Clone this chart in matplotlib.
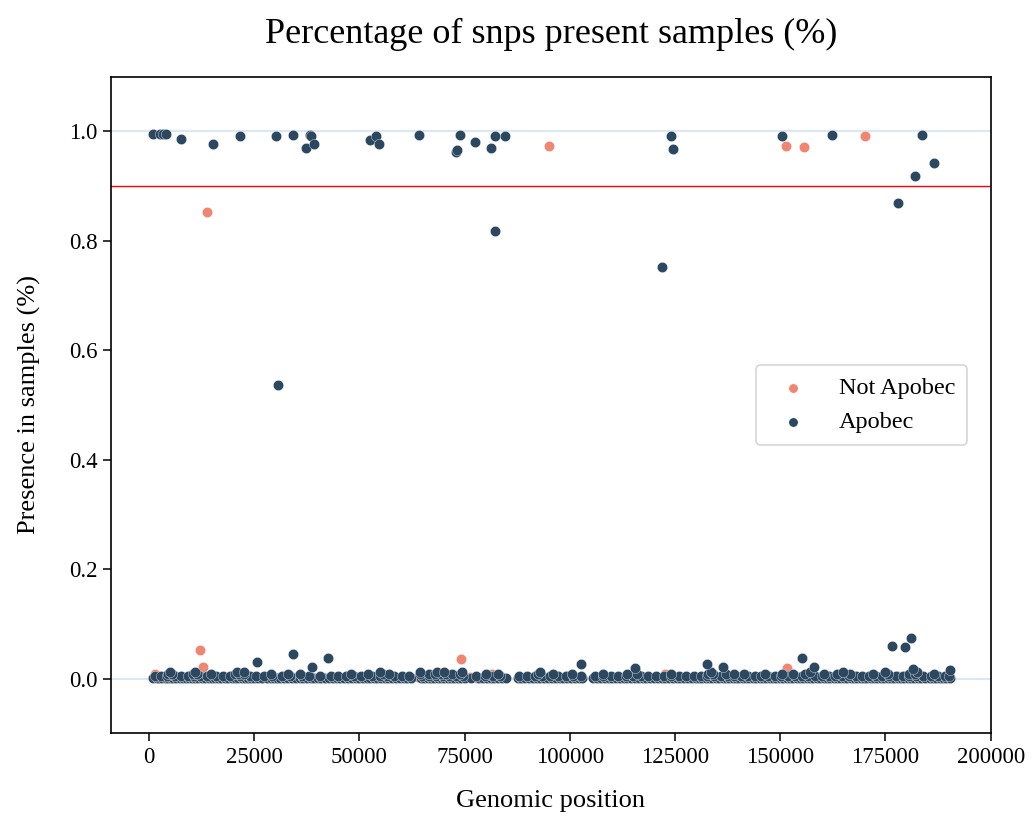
import matplotlib
matplotlib.use("Agg")
import matplotlib.pyplot as plt
import numpy as np

plt.rcParams["font.family"] = ["Liberation Serif", "DejaVu Serif"]

# --- high / mid presence points (x = genomic position, y = fraction) ---
hi_apobec_x = [1000, 2600, 3300, 4000, 7600, 15270, 21600, 30300, 30630, 34350,
               37300, 38250, 38500, 39200, 52600, 54050, 54600, 64200, 73050, 73300,
               74000, 77400, 81200, 82300, 82300, 84600, 121800, 124100, 124500, 150400,
               162300, 178050, 181950, 183600, 186450]
hi_apobec_y = [0.996, 0.996, 0.996, 0.996, 0.986, 0.977, 0.991, 0.991, 0.536, 0.994,
               0.969, 0.994, 0.991, 0.977, 0.984, 0.991, 0.977, 0.994, 0.962, 0.966,
               0.994, 0.981, 0.969, 0.991, 0.818, 0.991, 0.753, 0.991, 0.968, 0.991,
               0.994, 0.870, 0.918, 0.994, 0.942]

hi_not_x = [13840, 95000, 151400, 155750, 170200]
hi_not_y = [0.852, 0.974, 0.974, 0.972, 0.991]

# --- low presence outliers ---
lo_apobec_x = [25570, 34260, 38770, 42570, 102560, 115600, 132550, 136520, 155100,
               158130, 176600, 179700, 181150, 181600, 190400]
lo_apobec_y = [0.030, 0.045, 0.022, 0.038, 0.026, 0.020, 0.027, 0.022, 0.038,
               0.022, 0.060, 0.058, 0.075, 0.018, 0.015]

lo_not_x = [12100, 12800, 74070, 151630]
lo_not_y = [0.053, 0.022, 0.035, 0.019]

# --- near-zero band, read as tiers of presence ---
zero_apobec_x = [1000, 1800, 2500, 3200, 4000, 4600, 5200, 5800, 6500, 7300, 8000, 8800,
                 9600, 10300, 11000, 11700, 12500, 13300, 14200, 15000, 15600, 16400,
                 17200, 18000, 18900, 19700, 20500, 21200, 22000, 22800, 23500, 24300,
                 25000, 25900, 26800, 28000, 28900, 29700, 30500, 31200, 32000, 33100,
                 34000, 35000, 35800, 36700, 37500, 38400, 39300, 40200, 41000, 41900,
                 42800, 43700, 44600, 45500, 46400, 47300, 48200, 49100, 50000, 50900,
                 51800, 52600, 53400, 54300, 55200, 56000, 56900, 57800, 58700, 59600,
                 60500, 61400, 62200, 64600, 65400, 66200, 67000, 67800, 68600, 69400,
                 70200, 71000, 71800, 72600, 73400, 74200, 75000, 76500, 78500, 79400,
                 80300, 81200, 82100, 83000, 83900, 84800, 87600, 88500, 89400, 90300,
                 91200, 92100, 93000, 93900, 94800, 95800, 96700, 97600, 98500, 99400,
                 100300, 101200, 102100, 103000, 105600, 106500, 107400, 108300, 109200,
                 110100, 111000, 111900, 112800, 113700, 114600, 115500, 116400, 117300,
                 118200, 119100, 120000, 120900, 121800, 122700, 123600, 124500, 125400,
                 126300, 127200, 128100, 129000, 129900, 130700, 131500, 132300, 133100,
                 133900, 134700, 135500, 136300, 137100, 137900, 138700, 139500, 140300,
                 141100, 141900, 142700, 143500, 144300, 145100, 145900, 146700, 147500,
                 148300, 149100, 149900, 150700, 151500, 152300, 153100, 153900, 154700,
                 155500, 156300, 157100, 157900, 158700, 159500, 160300, 161100, 161900,
                 162700, 163500, 164300, 165100, 165900, 166700, 167500, 168300, 169100,
                 169900, 170700, 171500, 172300, 173100, 173900, 174700, 175500, 176300,
                 177100, 177900, 178700, 179500, 180300, 181100, 181900, 182700, 183500,
                 184300, 185500, 186300, 187100, 187900, 188700, 189500, 190300]
zero_apobec_y = 0.001

low_apobec_x = [1400, 2900, 4300, 6100, 7700, 9200, 10700, 12100, 13800, 16000, 17600,
                19300, 21600, 23900, 25400, 27400, 29300, 31600, 33500, 36300, 38000,
                40600, 43200, 45000, 46900, 48700, 50500, 53000, 54800, 56500, 58300,
                60100, 61800, 65000, 66600, 68200, 69800, 71400, 73000, 74600, 77600,
                79800, 81700, 83500, 88000, 89800, 91700, 93500, 95300, 97200, 99000,
                100800, 102600, 106000, 107900, 109700, 111500, 113300, 115100, 116900,
                118700, 120500, 122300, 124100, 125900, 127700, 129500, 131100, 132700,
                134300, 135900, 137500, 139100, 140700, 142300, 143900, 145500, 147100,
                148700, 150300, 151900, 153500, 155100, 156700, 158300, 159900, 161500,
                163100, 164700, 166300, 167900, 169500, 171100, 172700, 174300, 175900,
                177500, 179100, 180700, 182300, 183900, 185900, 187500, 189100, 190000]
low_apobec_y = 0.004

mid_apobec_x = [4500, 5500, 10500, 11500, 14800, 20500, 21500, 22500, 29000, 33000,
                36000, 48000, 52000, 55500, 57000, 64500, 66500, 68000, 69500, 70500,
                72000, 73800, 80000, 83000, 92500, 96000, 100500, 108000, 113500, 116000,
                124000, 132800, 134000, 137000, 139000, 141500, 146500, 150500, 153000,
                156000, 160500, 163500, 166500, 172000, 175500, 180500, 182000, 186500]
mid_apobec_y = 0.008

top_apobec_x = [5000, 11000, 21000, 22600, 55000, 64500, 68500, 70000, 74300, 93000,
                133500, 157000, 165000, 175000, 182500]
top_apobec_y = 0.013

zero_not_x = [1500, 8000, 35000, 51500, 64000, 66000, 76200, 78000, 81400, 82000,
              91600, 95000, 101100, 114000, 116600, 118000, 122700, 128000, 131000,
              145000, 152000, 154000, 170000, 178000, 181000, 185000, 186000, 190000]
zero_not_y = [0.008, 0.003, 0.003, 0.004, 0.003, 0.003, 0.003, 0.002, 0.008, 0.004,
              0.002, 0.003, 0.003, 0.003, 0.003, 0.003, 0.008, 0.003, 0.003, 0.003,
              0.003, 0.003, 0.003, 0.004, 0.003, 0.002, 0.003, 0.003]

not_color = "#ee8672"
apobec_color = "#2c4760"


def main():
    fig, ax = plt.subplots(figsize=(10.33, 8.24), dpi=100)
    fig.subplots_adjust(left=0.1075, right=0.959, top=0.907, bottom=0.11)

    ax.axhline(1.0, color="#dbe7f1", lw=1.5, zorder=1)
    ax.axhline(0.0, color="#dbe7f1", lw=1.5, zorder=1)
    ax.axhline(0.9, color="red", lw=1.0, zorder=1)

    kw = dict(s=55, edgecolors="white", linewidths=0.25, zorder=3)

    nx = zero_not_x + lo_not_x + hi_not_x
    ny = zero_not_y + lo_not_y + hi_not_y
    ax.scatter(nx, ny, color=not_color, label="Not Apobec", **kw)

    px = np.concatenate([zero_apobec_x, low_apobec_x, mid_apobec_x, top_apobec_x,
                         lo_apobec_x, hi_apobec_x])
    py = np.concatenate([np.full(len(zero_apobec_x), zero_apobec_y),
                         np.full(len(low_apobec_x), low_apobec_y),
                         np.full(len(mid_apobec_x), mid_apobec_y),
                         np.full(len(top_apobec_x), top_apobec_y),
                         lo_apobec_y, hi_apobec_y])
    ax.scatter(px, py, color=apobec_color, label="Apobec", **kw)

    ax.set_xlim(-9000, 200000)
    ax.set_ylim(-0.1, 1.1)
    ax.set_xticks([0, 25000, 50000, 75000, 100000, 125000, 150000, 175000, 200000])
    ax.set_yticks([0.0, 0.2, 0.4, 0.6, 0.8, 1.0])
    ax.tick_params(labelsize=16.5, length=6, width=1.1)
    for sp in ax.spines.values():
        sp.set_linewidth(1.2)

    ax.set_title("Percentage of snps present samples (%)", fontsize=26, pad=24)
    ax.set_xlabel("Genomic position", fontsize=19, labelpad=16)
    ax.set_ylabel("Presence in samples (%)", fontsize=19, labelpad=20)

    leg = ax.legend(loc="center right", fontsize=17.5, markerscale=0.9,
                    borderpad=0.5, handletextpad=0.9, bbox_to_anchor=(0.9875, 0.5))
    leg.get_frame().set_linewidth(1.2)

    fig.savefig("out.png", dpi=100)


if __name__ == "__main__":
    main()
